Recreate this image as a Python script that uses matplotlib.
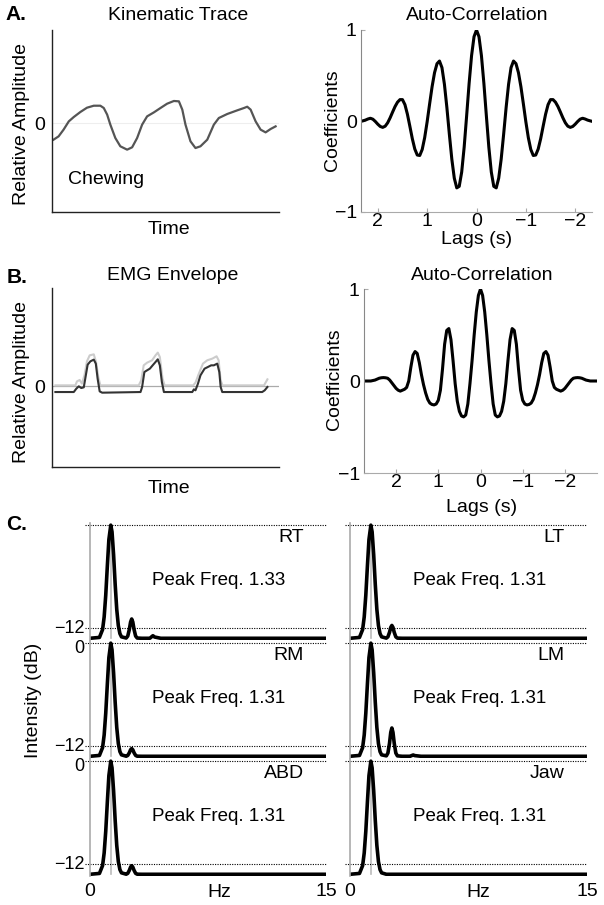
import numpy as np
import matplotlib
matplotlib.use('Agg')
import matplotlib.pyplot as plt
import matplotlib.transforms as mtransforms

plt.rcParams['font.family'] = ['Liberation Sans', 'DejaVu Sans']
plt.rcParams['font.size'] = 14

# ---- A. kinematic trace (time normalised 0..1, relative amplitude) ----
kin_t = [0.007, 0.029, 0.051, 0.074, 0.096, 0.125, 0.154, 0.184, 0.213, 0.228,
         0.243, 0.257, 0.279, 0.301, 0.331, 0.353, 0.375, 0.397, 0.419, 0.449,
         0.478, 0.507, 0.537, 0.559, 0.574, 0.588, 0.610, 0.632, 0.654, 0.684,
         0.713, 0.735, 0.772, 0.816, 0.846, 0.860, 0.875, 0.897, 0.919, 0.941,
         0.963, 0.985]
kin_amp = [-0.183, -0.147, -0.073, 0.018, 0.066, 0.121, 0.168, 0.190, 0.190, 0.165,
           0.092, -0.018, -0.165, -0.256, -0.293, -0.267, -0.165, -0.018, 0.073, 0.117,
           0.165, 0.212, 0.242, 0.238, 0.147, -0.018, -0.201, -0.275, -0.256, -0.183,
           -0.018, 0.055, 0.099, 0.139, 0.165, 0.179, 0.147, 0.018, -0.073, -0.103,
           -0.066, -0.037]

# auto-correlation of kinematic trace (one side, symmetric)
lag_a = [0.00, 0.05, 0.10, 0.15, 0.20, 0.25, 0.30, 0.35, 0.40, 0.45,
         0.50, 0.55, 0.60, 0.65, 0.70, 0.75, 0.80, 0.85, 0.90, 0.95,
         1.00, 1.05, 1.10, 1.15, 1.20, 1.25, 1.30, 1.35, 1.40, 1.45,
         1.50, 1.55, 1.60, 1.65, 1.70, 1.75, 1.80, 1.85, 1.90, 1.95,
         2.00, 2.05, 2.10, 2.15, 2.20, 2.25, 2.30, 2.35]
coef_a = [1.000, 0.927, 0.718, 0.411, 0.056, -0.288, -0.561, -0.718, -0.735, -0.628,
          -0.419, -0.145, 0.147, 0.404, 0.587, 0.659, 0.630, 0.531, 0.376, 0.187,
          -0.009, -0.183, -0.313, -0.379, -0.374, -0.308, -0.195, -0.058, 0.075, 0.180,
          0.235, 0.235, 0.207, 0.159, 0.098, 0.035, -0.020, -0.057, -0.070, -0.060,
          -0.035, -0.005, 0.020, 0.030, 0.022, 0.010, 0.002, -0.005]

# ---- B. EMG envelope ----
emg_t = [0.015, 0.096, 0.107, 0.118, 0.129, 0.140, 0.149, 0.157, 0.169, 0.184,
         0.193, 0.201, 0.210, 0.221, 0.390, 0.397, 0.407, 0.419, 0.431, 0.441,
         0.456, 0.466, 0.475, 0.484, 0.493, 0.618, 0.625, 0.632, 0.643, 0.654,
         0.672, 0.687, 0.701, 0.713, 0.728, 0.737, 0.743, 0.750, 0.926, 0.937,
         0.949]
emg_dark = [-0.074, -0.074, -0.033, -0.004, -0.025, -0.016, 0.131, 0.262, 0.303, 0.324,
            0.275, 0.090, -0.066, -0.082, -0.074, -0.012, 0.172, 0.193, 0.213, 0.246,
            0.295, 0.328, 0.254, 0.049, -0.074, -0.074, -0.041, -0.053, 0.029, 0.131,
            0.213, 0.234, 0.254, 0.254, 0.275, 0.172, -0.012, -0.074, -0.074, -0.053,
            -0.012]
emg_t2 = [0.015, 0.103, 0.110, 0.122, 0.132, 0.143, 0.154, 0.166, 0.184, 0.194,
          0.204, 0.213, 0.382, 0.393, 0.404, 0.419, 0.441, 0.456, 0.466, 0.475,
          0.487, 0.496, 0.622, 0.632, 0.647, 0.665, 0.684, 0.706, 0.725, 0.734,
          0.743, 0.751, 0.934, 0.949]
emg_light = [0.008, 0.008, 0.057, 0.074, 0.029, 0.131, 0.303, 0.377, 0.389, 0.295,
             0.111, 0.008, 0.008, 0.070, 0.254, 0.287, 0.316, 0.377, 0.410, 0.357,
             0.090, 0.008, 0.008, 0.041, 0.152, 0.275, 0.316, 0.336, 0.365, 0.316,
             0.070, 0.008, 0.008, 0.082]

# auto-correlation of EMG envelope (one side, symmetric)
lag_b = [0.00, 0.05, 0.10, 0.15, 0.20, 0.25, 0.30, 0.35, 0.40, 0.45,
         0.50, 0.55, 0.60, 0.65, 0.70, 0.75, 0.80, 0.85, 0.90, 0.95,
         1.00, 1.05, 1.10, 1.15, 1.20, 1.25, 1.30, 1.35, 1.40, 1.45,
         1.50, 1.55, 1.60, 1.65, 1.70, 1.75, 1.80, 1.85, 1.90, 1.95,
         2.00, 2.05, 2.10, 2.15, 2.20, 2.25, 2.30, 2.35, 2.40, 2.45,
         2.50, 2.55, 2.60, 2.65, 2.70, 2.75]
coef_b = [1.00, 0.93, 0.75, 0.50, 0.22, -0.03, -0.25, -0.37, -0.39, -0.38,
          -0.33, -0.22, -0.03, 0.22, 0.45, 0.57, 0.55, 0.40, 0.13, -0.10,
          -0.21, -0.25, -0.26, -0.255, -0.24, -0.20, -0.13, -0.04, 0.07, 0.20,
          0.30, 0.32, 0.28, 0.15, 0.00, -0.07, -0.09, -0.10, -0.11, -0.10,
          -0.08, -0.05, -0.02, 0.01, 0.03, 0.035, 0.037, 0.035, 0.03, 0.02,
          0.01, 0.005, 0.0, 0.0, 0.0, 0.0]

# ---- C. power spectra (dB) ----
hz = [0, 0.6, 0.8, 0.9, 1.0, 1.1, 1.2, 1.32, 1.4, 1.5,
      1.6, 1.7, 1.8, 1.9, 2.0, 2.3, 2.4, 2.5, 2.58, 2.65,
      2.72, 2.8, 2.9, 3.0, 3.3, 3.8, 3.9, 4.0, 4.1, 4.5, 15]
spec_rt = [-13.2, -13.1, -12.18, -10.71, -8.19, -4.84, -1.68, 0.0, -0.78, -3.48,
           -6.91, -9.83, -11.71, -12.65, -13.03, -13.17, -12.94, -12.17, -11.30, -10.95,
           -11.30, -12.17, -12.94, -13.17, -13.2, -13.2, -13.05, -12.9, -13.05, -13.2, -13.2]
spec_lt = [-13.2, -13.1, -12.18, -10.71, -8.19, -4.84, -1.68, 0.0, -0.78, -3.48,
           -6.91, -9.83, -11.71, -12.65, -13.03, -13.18, -13.03, -12.51, -11.93, -11.7,
           -11.93, -12.51, -13.03, -13.18, -13.2, -13.2, -13.2, -13.2, -13.2, -13.2, -13.2]
spec_rm = [-13.2, -13.1, -12.18, -10.71, -8.19, -4.84, -1.68, 0.0, -0.78, -3.48,
           -6.91, -9.83, -11.71, -12.65, -13.03, -13.19, -13.10, -12.79, -12.44, -12.3,
           -12.44, -12.79, -13.10, -13.19, -13.2, -13.2, -13.2, -13.2, -13.2, -13.2, -13.2]
spec_lm = [-13.2, -13.1, -12.18, -10.71, -8.19, -4.84, -1.68, 0.0, -0.78, -3.48,
           -6.91, -9.83, -11.71, -12.65, -13.03, -13.15, -12.82, -11.69, -10.41, -9.9,
           -10.41, -11.69, -12.82, -13.15, -13.2, -13.2, -13.12, -13.05, -13.12, -13.2, -13.2]
spec_abd = [-13.2, -13.1, -12.18, -10.71, -8.19, -4.84, -1.68, 0.0, -0.78, -3.48,
            -6.91, -9.83, -11.71, -12.65, -13.03, -13.19, -13.09, -12.74, -12.36, -12.2,
            -12.36, -12.74, -13.09, -13.19, -13.2, -13.2, -13.2, -13.2, -13.2, -13.2, -13.2]
spec_jaw = [-13.2, -13.1, -12.18, -10.71, -8.19, -4.84, -1.68, 0.0, -0.78, -3.48,
            -6.91, -9.83, -11.71, -12.65, -13.03, -13.2, -13.2, -13.2, -13.2, -13.2,
            -13.2, -13.2, -13.2, -13.2, -13.2, -13.2, -13.2, -13.2, -13.2, -13.2, -13.2]
muscles = ['RT', 'LT', 'RM', 'LM', 'ABD', 'Jaw']
peak_freq = [1.33, 1.31, 1.31, 1.31, 1.31, 1.31]
spectra = [spec_rt, spec_lt, spec_rm, spec_lm, spec_abd, spec_jaw]

W, H = 604, 905
fig = plt.figure(figsize=(W / 100, H / 100), dpi=100)


def add_ax(l, t, r, b):
    return fig.add_axes([l / W, 1 - b / H, (r - l) / W, (b - t) / H])


def ftext(x, y, s, **kw):
    kw.setdefault('ha', 'center')
    kw.setdefault('va', 'center')
    fig.text(x / W, 1 - y / H, s, **kw)


def trace_axes(ax):
    for s in ['top', 'right']:
        ax.spines[s].set_visible(False)
    for s in ['left', 'bottom']:
        ax.spines[s].set_color('#222222')
        ax.spines[s].set_linewidth(1.0)
    ax.set_xticks([])
    ax.set_yticks([0])
    ax.set_yticklabels(['0'])
    ax.tick_params(axis='y', length=0, pad=5)
    ax.set_xlim(0, 1)


def ac_axes(ax, lim):
    for s in ['top', 'right']:
        ax.spines[s].set_visible(False)
    ax.spines['left'].set_color('#888888')
    ax.spines['bottom'].set_color('#aaaaaa')
    ax.set_xlim(lim, -lim)
    ax.set_ylim(-1, 1)
    ax.set_xticks([2, 1, 0, -1, -2])
    ax.set_yticks([-1, 0, 1])
    ax.tick_params(direction='in', length=3, color='#aaaaaa')
    ax.tick_params(axis='x', pad=1)
    ax.tick_params(axis='y', pad=3)


# A left
ax = add_ax(52, 30, 279, 212)
ax.axhline(0, color='#eeeeee', lw=0.8, zorder=0)
ax.plot(kin_t, kin_amp, color='#555555', lw=1.6)
ax.set_ylim(-0.978, 1.022)
trace_axes(ax)
ax.text(0.07, 0.176, 'Chewing', transform=ax.transAxes, va='center')
ftext(178, 15, 'Kinematic Trace')
ftext(169, 230, 'Time')
ftext(22, 124, 'Relative Amplitude', rotation=90)
ftext(16, 15, 'A.', fontweight='bold', fontsize=15)

# A right
ax = add_ax(361, 30, 592, 212)
la = np.array(lag_a)
ca = np.array(coef_a)
ax.plot(np.concatenate([-la[::-1], la[1:]]), np.concatenate([ca[::-1], ca[1:]]),
        color='black', lw=2.2)
ac_axes(ax, 2.34)
ftext(477, 15, 'Auto-Correlation')
ftext(477, 239, 'Lags (s)')
ftext(333, 120, 'Coefficients', rotation=90)

# B left
ax = add_ax(52, 288, 279, 467)
ax.axhline(0, color='#aaaaaa', lw=0.9, zorder=0)
ax.plot(emg_t2, emg_light, color='#cccccc', lw=1.5)
ax.plot(emg_t, emg_dark, color='#333333', lw=1.5)
ax.set_ylim(-0.995, 1.204)
trace_axes(ax)
ftext(173, 276, 'EMG Envelope')
ftext(169, 488, 'Time')
ftext(22, 382, 'Relative Amplitude', rotation=90)
ftext(17, 277, 'B.', fontweight='bold', fontsize=15)

# B right
ax = add_ax(364, 289, 597, 473)
lb = np.array(lag_b)
cb = np.array(coef_b)
ax.plot(np.concatenate([-lb[::-1], lb[1:]]), np.concatenate([cb[::-1], cb[1:]]),
        color='black', lw=2.2)
ac_axes(ax, 2.76)
ftext(482, 275, 'Auto-Correlation')
ftext(482, 508, 'Lags (s)')
ftext(335, 379, 'Coefficients', rotation=90)

# C spectra
cols = [(90, 326), (350, 587)]
rows = [(523, 640), (641, 758), (759, 876)]
down = mtransforms.ScaledTranslation(0, -3 / 100, fig.dpi_scale_trans)
up = mtransforms.ScaledTranslation(0, 1.5 / 100, fig.dpi_scale_trans)
for i, (name, pk, spec) in enumerate(zip(muscles, peak_freq, spectra)):
    r, c = divmod(i, 2)
    ax = add_ax(cols[c][0], rows[r][0], cols[c][1], rows[r][1])
    ax.plot([pk, pk], [-13.2, 0], color='#bbbbbb', lw=1.2, zorder=1)
    ax.plot(hz, spec, color='black', lw=2.6, zorder=2, solid_joinstyle='round')
    for yv in [0, -12]:
        ax.axhline(yv, xmin=-0.02, xmax=1, color='black', ls=(0, (1, 1.2)),
                   lw=0.8, clip_on=False)
    ax.set_xlim(0, 15)
    ax.set_ylim(-13.4, 0.25)
    for s in ['top', 'right', 'bottom']:
        ax.spines[s].set_visible(False)
    ax.spines['left'].set_color('#aaaaaa')
    ax.spines['left'].set_linewidth(1.2)
    ax.tick_params(length=0)
    if c == 0:
        if r == 0:
            ax.set_yticks([-12])
            ax.set_yticklabels(['\u221212'])
        else:
            ax.set_yticks([0, -12])
            ax.set_yticklabels(['0', '\u221212'])
        ax.tick_params(axis='y', pad=4, labelsize=13)
        for lab in ax.get_yticklabels():
            shift = down if lab.get_text() == '0' else up
            lab.set_transform(lab.get_transform() + shift)
    else:
        ax.set_yticks([])
    if r == 2:
        ax.set_xticks([0, 15])
        ax.set_xticklabels(['0', '15'])
        ax.tick_params(axis='x', pad=5)
    else:
        ax.set_xticks([])
    ax.text(0.905, 0.88, name, transform=ax.transAxes, ha='right', va='center')
    ax.text(0.545, 0.51, 'Peak Freq. %.2f' % pk, transform=ax.transAxes,
            ha='center', va='center', fontsize=13.5)

ftext(219, 892, 'Hz')
ftext(478, 892, 'Hz')
ftext(33, 700, 'Intensity (dB)', rotation=90)
ftext(17, 525, 'C.', fontweight='bold', fontsize=15)

fig.savefig('out.png', dpi=100)
